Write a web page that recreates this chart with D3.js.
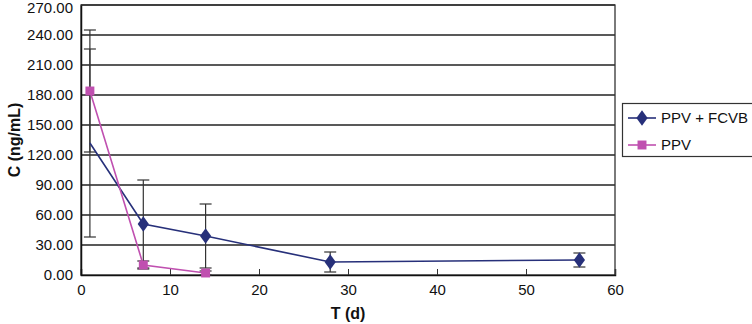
<!DOCTYPE html>
<html>
<head>
<meta charset="utf-8">
<script src="https://cdn.jsdelivr.net/npm/d3@7"></script>
<style>
  body { margin: 0; background: #fff; }
  svg { display: block; font-family: "Liberation Sans", Arial, sans-serif; }
</style>
</head>
<body>
<svg id="chart" width="752" height="324"></svg>
<script>
const days = [1, 7, 14, 28, 56];
const fcvbValues = [132, 51, 39, 13, 15];
const fcvbErrors = [94, 44, 32, 10, 7];
const ppvDays = [1, 7, 14];
const ppvValues = [184, 10, 2];
const ppvErrors = [61, 4, 2];
const yTicks = [0, 30, 60, 90, 120, 150, 180, 210, 240, 270];
const xTicks = [0, 10, 20, 30, 40, 50, 60];
const seriesNames = ["PPV + FCVB", "PPV"];

const navy = "#27307a";
const pink = "#c050b0";

const svg = d3.select("#chart");
const plotLeft = 81, plotRight = 615, plotTop = 5, plotBottom = 275;

const x = d3.scaleLinear().domain([0, 60]).range([plotLeft, plotRight]);
const y = d3.scaleLinear().domain([0, 270]).range([plotBottom, plotTop]);

// gridlines
svg.append("g")
  .selectAll("line")
  .data(yTicks.slice(1))
  .enter()
  .append("line")
  .attr("x1", plotLeft).attr("x2", plotRight)
  .attr("y1", d => y(d)).attr("y2", d => y(d))
  .attr("stroke", "#222")
  .attr("stroke-width", 1.3);

// frame
svg.append("rect")
  .attr("x", plotLeft).attr("y", plotTop)
  .attr("width", plotRight - plotLeft).attr("height", plotBottom - plotTop)
  .attr("fill", "none")
  .attr("stroke", "#333")
  .attr("stroke-width", 1.3);

// x axis: ticks pointing up into the plot
const xAxis = svg.append("g")
  .attr("transform", `translate(0,${plotBottom})`)
  .call(d3.axisBottom(x).tickValues(xTicks).tickSize(-6).tickPadding(9).tickFormat(d3.format("d")));
xAxis.select(".domain").attr("stroke", "#111").attr("stroke-width", 1.5);
xAxis.selectAll(".tick line").attr("stroke", "#333");
xAxis.selectAll("text").attr("font-size", 15).attr("fill", "#111").attr("font-family", "Liberation Sans, Arial, sans-serif");

// y axis labels
const yAxis = svg.append("g")
  .attr("transform", `translate(${plotLeft},0)`)
  .call(d3.axisLeft(y).tickValues(yTicks).tickSize(0).tickPadding(8).tickFormat(d3.format(".2f")));
yAxis.select(".domain").attr("stroke", "#111").attr("stroke-width", 1.5);
yAxis.selectAll("text").attr("font-size", 15).attr("fill", "#111").attr("font-family", "Liberation Sans, Arial, sans-serif");
// keep the top label inside the picture
yAxis.selectAll(".tick text").filter(d => d === 270).attr("dy", "0.5em");

// axis titles
svg.append("text")
  .attr("x", 348).attr("y", 319)
  .attr("text-anchor", "middle")
  .attr("font-size", 16).attr("font-weight", "bold").attr("fill", "#111")
  .text("T (d)");
svg.append("text")
  .attr("transform", `translate(20,${(plotTop + plotBottom) / 2}) rotate(-90)`)
  .attr("text-anchor", "middle")
  .attr("font-size", 16).attr("font-weight", "bold").attr("fill", "#111")
  .text("C (ng/mL)");

const fcvb = days.map((d, i) => ({ t: d, v: fcvbValues[i], e: fcvbErrors[i] }));
const ppv = ppvDays.map((d, i) => ({ t: d, v: ppvValues[i], e: ppvErrors[i] }));

function errorBars(data) {
  const g = svg.append("g").attr("stroke", "#333").attr("stroke-width", 1.2);
  data.forEach(d => {
    const lo = Math.max(0, d.v - d.e), hi = d.v + d.e;
    g.append("line").attr("x1", x(d.t)).attr("x2", x(d.t)).attr("y1", y(lo)).attr("y2", y(hi));
    g.append("line").attr("x1", x(d.t) - 6).attr("x2", x(d.t) + 6).attr("y1", y(hi)).attr("y2", y(hi));
    g.append("line").attr("x1", x(d.t) - 6).attr("x2", x(d.t) + 6).attr("y1", y(lo)).attr("y2", y(lo));
  });
}

errorBars(fcvb);
errorBars(ppv);

const line = d3.line().x(d => x(d.t)).y(d => y(d.v));

svg.append("path").datum(fcvb).attr("d", line)
  .attr("fill", "none").attr("stroke", navy).attr("stroke-width", 1.6);
svg.append("path").datum(ppv).attr("d", line)
  .attr("fill", "none").attr("stroke", pink).attr("stroke-width", 1.6);

// markers (the first FCVB point is hidden behind the error bar in the original)
const diamond = d3.symbol().type(d3.symbolDiamond).size(70);
const square = d3.symbol().type(d3.symbolSquare).size(80);
svg.append("g").selectAll("path").data(fcvb.slice(1)).enter().append("path")
  .attr("d", diamond)
  .attr("transform", d => `translate(${x(d.t)},${y(d.v)}) scale(1.25,1)`)
  .attr("fill", navy);
svg.append("g").selectAll("path").data(ppv).enter().append("path")
  .attr("d", square)
  .attr("transform", d => `translate(${x(d.t)},${y(d.v)})`)
  .attr("fill", pink);

// legend
const legend = svg.append("g");
legend.append("rect")
  .attr("x", 622.5).attr("y", 103.5).attr("width", 140).attr("height", 53)
  .attr("fill", "#fff").attr("stroke", "#333").attr("stroke-width", 1.2);
const items = [
  { name: seriesNames[0], color: navy, sym: diamond, sx: 1.25 },
  { name: seriesNames[1], color: pink, sym: square, sx: 1 }
];
items.forEach((it, i) => {
  const ly = 118 + i * 27;
  legend.append("line").attr("x1", 628).attr("x2", 656).attr("y1", ly).attr("y2", ly)
    .attr("stroke", it.color).attr("stroke-width", 1.6);
  legend.append("path").attr("d", it.sym)
    .attr("transform", `translate(642,${ly}) scale(${it.sx},1)`)
    .attr("fill", it.color);
  legend.append("text").attr("x", 661).attr("y", ly + 5)
    .attr("font-size", 15).attr("fill", "#111")
    .text(it.name);
});
</script>
</body>
</html>
